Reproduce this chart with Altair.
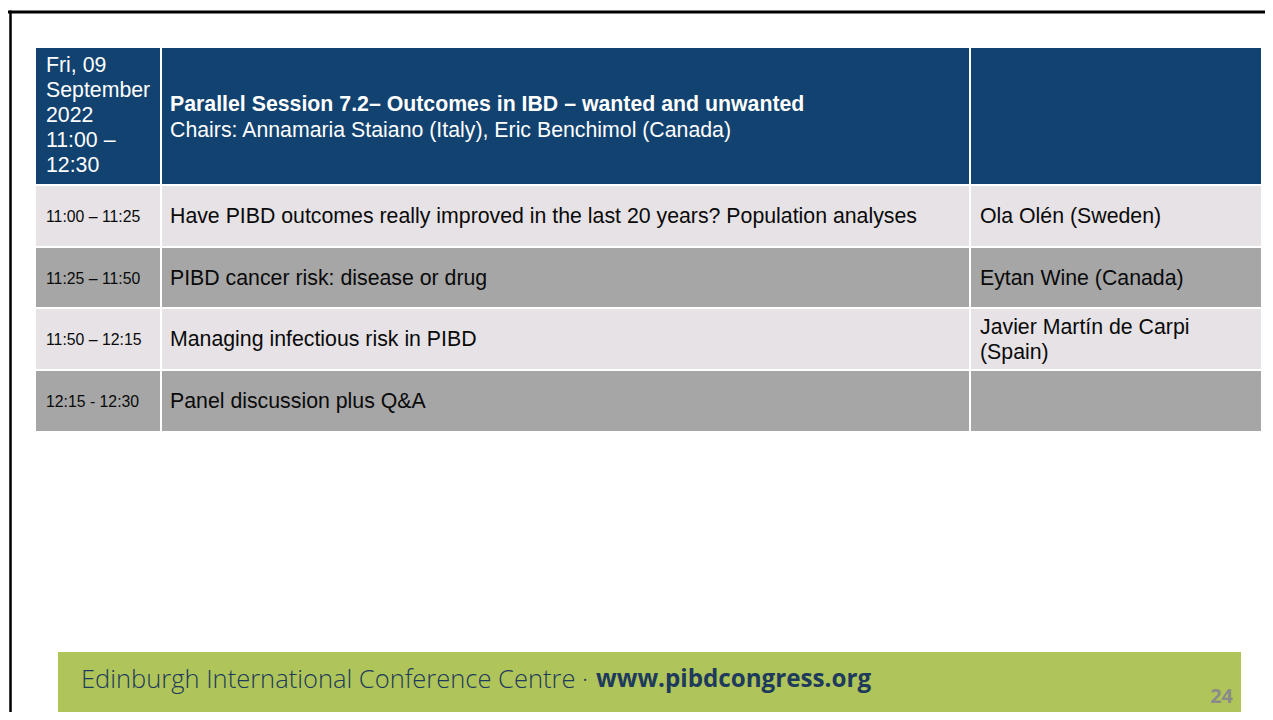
import altair as alt
import pandas as pd

# ---- content ----
date_lines = ["Fri, 09", "September", "2022", "11:00 –", "12:30"]
session_title = "Parallel Session 7.2– Outcomes in IBD – wanted and unwanted"
session_chairs = "Chairs: Annamaria Staiano (Italy), Eric Benchimol (Canada)"
slot_times = ["11:00 – 11:25", "11:25 – 11:50", "11:50 – 12:15", "12:15 - 12:30"]
talk_titles = [
    "Have PIBD outcomes really improved in the last 20 years? Population analyses",
    "PIBD cancer risk: disease or drug",
    "Managing infectious risk in PIBD",
    "Panel discussion plus Q&A",
]
speakers = [["Ola Olén (Sweden)"], ["Eytan Wine (Canada)"],
            ["Javier Martín de Carpi", "(Spain)"], []]
footer_venue = "Edinburgh International Conference Centre ·"
footer_url = "www.pibdcongress.org"
page_number = "24"

# ---- layout (page pixel units) ----
W, H = 1257, 704
X0, Y0 = 8, 8
col_left = [36, 162, 971]
col_right = [160, 969, 1261]
row_top = [48, 186, 248, 309, 371]
row_bottom = [184, 246, 307, 369, 431]
row_fill = ["#12426F", "#E6E2E5", "#A6A6A6", "#E6E2E5", "#A6A6A6"]
LINE = 25
FONT = "Liberation Sans"
BODY = 21.3
SMALL = 15.8

xs = alt.Scale(domain=[X0, X0 + W], nice=False, zero=False)
ys = alt.Scale(domain=[Y0, Y0 + H], nice=False, zero=False, reverse=True)


def X(f="x"):
    return alt.X(f"{f}:Q", scale=xs, axis=None)


def Y(f="y"):
    return alt.Y(f"{f}:Q", scale=ys, axis=None)


# cells
cells = []
for r in range(5):
    for c in range(3):
        cells.append(dict(x=col_left[c], x2=col_right[c], y=row_top[r],
                          y2=row_bottom[r], fill=row_fill[r]))
cells_df = pd.DataFrame(cells)
cells_layer = alt.Chart(cells_df).mark_rect().encode(
    x=X(), x2="x2:Q", y=Y(), y2="y2:Q",
    color=alt.Color("fill:N", scale=None))

# texts
reg, bold = [], []
hc = (row_top[0] + row_bottom[0]) / 2
n = len(date_lines)
for i, t in enumerate(date_lines):
    reg.append(dict(x=col_left[0] + 10, y=hc + (i - (n - 1) / 2) * LINE, t=t,
                    s=BODY, col="#FFFFFF"))
bold.append(dict(x=col_left[1] + 8, y=hc - 11, t=session_title, s=BODY, col="#FFFFFF"))
reg.append(dict(x=col_left[1] + 8, y=hc + 15, t=session_chairs, s=BODY, col="#FFFFFF"))
for r in range(4):
    cy = (row_top[r + 1] + row_bottom[r + 1]) / 2 + 1
    reg.append(dict(x=col_left[0] + 10, y=cy, t=slot_times[r], s=SMALL, col="#0A0A0A"))
    reg.append(dict(x=col_left[1] + 8, y=cy, t=talk_titles[r], s=BODY, col="#0A0A0A"))
    m = len(speakers[r])
    for j, t in enumerate(speakers[r]):
        reg.append(dict(x=col_left[2] + 9, y=cy + (j - (m - 1) / 2) * LINE, t=t,
                        s=BODY, col="#0A0A0A"))

reg_df = pd.DataFrame(reg)
bold_df = pd.DataFrame(bold)


def text_layer(df, weight):
    return alt.Chart(df).mark_text(align="left", baseline="middle", font=FONT,
                                   fontWeight=weight).encode(
        x=X(), y=Y(), text="t:N",
        size=alt.Size("s:Q", scale=None),
        color=alt.Color("col:N", scale=None))


# footer
footer_df = pd.DataFrame([dict(x=58, x2=1241, y=652, y2=715)])
footer_rect = alt.Chart(footer_df).mark_rect(color="#AFC55A", clip=True).encode(
    x=X(), x2="x2:Q", y=Y(), y2="y2:Q")
venue_df = pd.DataFrame([dict(x=81, y=680, t=footer_venue)])
url_df = pd.DataFrame([dict(x=596, y=680, t=footer_url)])
venue_layer = alt.Chart(venue_df).mark_text(
    align="left", baseline="middle", font="Open Sans", fontWeight=300,
    fontSize=25.5, color="#1E3A5C").encode(x=X(), y=Y(), text="t:N")
url_layer = alt.Chart(url_df).mark_text(
    align="left", baseline="middle", font="Open Sans", fontWeight="bold",
    fontSize=24.2, color="#1E3A5C").encode(x=X(), y=Y(), text="t:N")
page_df = pd.DataFrame([dict(x=1233, y=697, t=page_number)])
page_layer = alt.Chart(page_df).mark_text(
    align="right", baseline="middle", font="Open Sans", fontWeight="bold",
    fontSize=20, color="#8A8A8A").encode(x=X(), y=Y(), text="t:N")

# slide frame
frame_top = alt.Chart(pd.DataFrame([dict(x=X0, x2=X0 + W, y=12)])).mark_rule(
    color="#000000", strokeWidth=3).encode(x=X(), x2="x2:Q", y=Y())
frame_left = alt.Chart(pd.DataFrame([dict(x=10.5, y=10.5, y2=Y0 + H)])).mark_rule(
    color="#000000", strokeWidth=2.5).encode(x=X(), y=Y(), y2="y2:Q")

chart = alt.layer(
    cells_layer, text_layer(reg_df, "normal"), text_layer(bold_df, "bold"),
    footer_rect, venue_layer, url_layer, page_layer, frame_top, frame_left,
).properties(
    width=W, height=H, padding=0, background="#FFFFFF",
    autosize=alt.AutoSizeParams(type="none"),
).configure_view(stroke=None)

chart.save("out.html", embed_options={"renderer": "svg", "actions": False})
